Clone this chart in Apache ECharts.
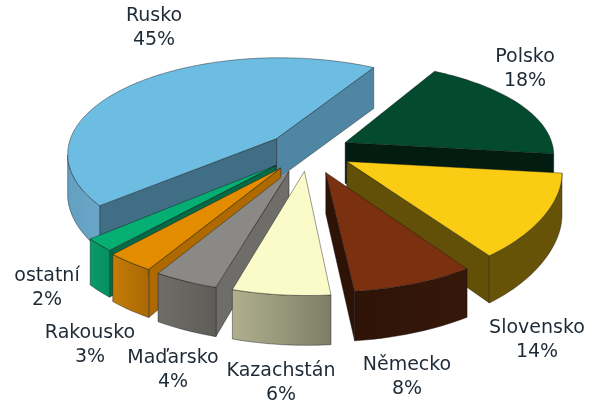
<!DOCTYPE html>
<html><head><meta charset="utf-8"><style>html,body{margin:0;padding:0;background:#fff}#c{width:594px;height:403px}</style>
<script src="https://cdn.jsdelivr.net/npm/echarts@6/dist/echarts.min.js"></script></head>
<body><div id="c"></div>
<script>
// ---- data ----
var categories = ['Rusko','Polsko','Slovensko','Německo','Kazachstán','Maďarsko','Rakousko','ostatní'];
var shares = [45,18,14,8,6,4,3,2];

// ---- view of the tilted pie (ground plane -> screen) ----
var VIEW = {cx:308.293, cy:150.801, A:210.635, B:96.169, C:-5.310, p:0.136, px:0.015, skew:-0.671, startDeg:220.464};
var EXPLODE = [0.197,0.200,0.208,0.232,0.208,0.228,0.219,0.214];
var RADIUS  = [1.011,1.008,1.013,1.004,1.042,1.023,1.026,1.017];
var FLATTEN = [0.05,-0.021,0.021,0.003,0,0,0,0];
var DRAW_ORDER = [0,1,2,7,6,5,3,4];
// ---- styles: top, rim from (left), rim to (right), start wall, end wall ----
var FACE = [
 ['#6DBDE3','#629FC0','#6AA6C8','#3F6E85','#4E86A3'],
 ['#034A2F','#012014','#012014','#012014','#021C11'],
 ['#FACD14','#665308','#665308','#665308','#625008'],
 ['#7B3110','#2E1306','#36180A','#2E1205','#2E1205'],
 ['#FBFBC9','#B0B08E','#7E7E68','#7E7E68','#7E7E68'],
 ['#8A8985','#6E6D68','#5E5D58','#6E6D69','#6E6D69'],
 ['#E38C00','#C47C08','#AA6804','#AE6A00','#AE6A00'],
 ['#05AE72','#0A9A68','#059060','#056A45','#056A45']
];
var LABEL_CENTER = [[154,28],[525,69],[537,340],[407,377],[281,383],[173,370],[90,345],[47,288]];

function project(X,Y){
  var w = 1 + VIEW.p*Y + VIEW.px*X;
  return [VIEW.cx + (VIEW.A*X + VIEW.C*Y)/w, VIEW.cy - (VIEW.B*Y + VIEW.skew*X)/w];
}
function depthAt(Y){ return 41 + 8.4*Math.max(0,-Y-0.2); }
function top3(X,Y){ return project(X,Y); }
function bottom3(X,Y){ var p=project(X,Y); return [p[0],p[1]+depthAt(Y)]; }
var LINE = {stroke:'rgba(20,20,20,0.7)', lineWidth:0.6, lineJoin:'round'};

function renderSlice(params, api){
  var share = api.value(0), i = api.value(1);
  var before = 0; for (var k=0;k<i;k++) before += shares[k];
  var total = shares.reduce(function(a,b){return a+b;},0);
  var a0 = (VIEW.startDeg - 360*before/total)*Math.PI/180;
  var a1 = (VIEW.startDeg - 360*(before+share)/total)*Math.PI/180;
  var mid = (a0+a1)/2, e = EXPLODE[i];
  var ox = e*Math.cos(mid), oy = e*Math.sin(mid);
  var n = Math.max(6, Math.round(Math.abs(a0-a1)*180/Math.PI/1.5));
  var rim = [];
  for (var s=0;s<=n;s++){
    var t=s/n, a=a0+(a1-a0)*t, r=RADIUS[i]*(1-FLATTEN[i]*Math.sin(Math.PI*t));
    rim.push([ox+r*Math.cos(a), oy+r*Math.sin(a)]);
  }
  var f = FACE[i], kids = [];
  function wall(P,Q,fill){
    kids.push({type:'polygon',shape:{points:[top3(P[0],P[1]),top3(Q[0],Q[1]),bottom3(Q[0],Q[1]),bottom3(P[0],P[1])]},
      style:Object.assign({fill:fill},LINE)});
  }
  var apex=[ox,oy], r0=rim[0], r1=rim[n];
  // a wall shows when the clockwise outline runs right-to-left on screen
  if (top3(r1[0],r1[1])[0] > top3(apex[0],apex[1])[0]) wall(r1,apex,f[4]);
  if (top3(r0[0],r0[1])[0] < top3(apex[0],apex[1])[0]) wall(apex,r0,f[3]);
  var vis = [];
  for (s=0;s<=n;s++){
    var goesLeft = (s<n && top3(rim[s+1][0],rim[s+1][1])[0] < top3(rim[s][0],rim[s][1])[0]);
    var cameLeft = (s>0 && top3(rim[s][0],rim[s][1])[0] < top3(rim[s-1][0],rim[s-1][1])[0]);
    if (goesLeft||cameLeft) vis.push(rim[s]);
  }
  if (vis.length>1){
    var up = vis.map(function(q){return top3(q[0],q[1]);});
    var dn = vis.map(function(q){return bottom3(q[0],q[1]);}).reverse();
    var xs = up.map(function(q){return q[0];});
    kids.push({type:'polygon',shape:{points:up.concat(dn)},style:Object.assign({
      fill:{type:'linear',x:Math.min.apply(null,xs),y:0,x2:Math.max.apply(null,xs),y2:0,global:true,
        colorStops:[{offset:0,color:f[1]},{offset:1,color:f[2]}]}},LINE)});
  }
  var topPts=[top3(apex[0],apex[1])].concat(rim.map(function(q){return top3(q[0],q[1]);}));
  kids.push({type:'polygon',shape:{points:topPts},style:Object.assign({fill:f[0]},LINE)});
  var c = LABEL_CENTER[i];
  kids.push({type:'text',x:c[0],y:c[1],style:{text:categories[i]+'\n'+share+'%',
    font:'19px "DejaVu Sans"',fill:'#1e2a36',align:'center',verticalAlign:'middle',lineHeight:24}});
  return {type:'group',children:kids};
}
var chart = echarts.init(document.getElementById('c'),null,{renderer:'canvas'});
chart.setOption({animation:false,backgroundColor:'#fff',series:[{
  type:'custom',coordinateSystem:'none',silent:true,renderItem:renderSlice,
  encode:{value:0},
  data:DRAW_ORDER.map(function(i){return [shares[i],i];})
}]});
</script></body></html>
